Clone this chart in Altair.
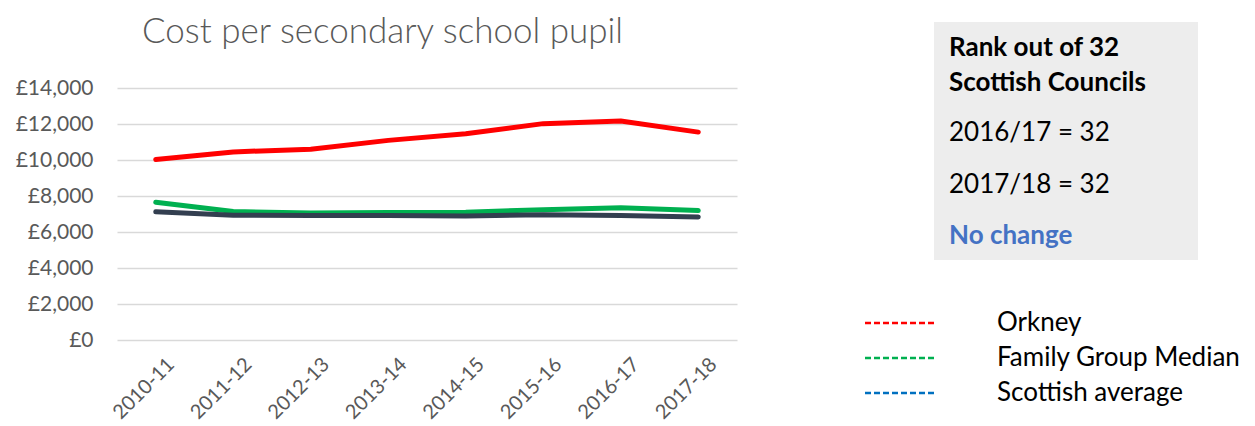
import altair as alt
import pandas as pd

years = ["2010-11", "2011-12", "2012-13", "2013-14", "2014-15", "2015-16", "2016-17", "2017-18"]
orkney = [10030, 10450, 10600, 11090, 11460, 12020, 12170, 11550]
family_median = [7650, 7140, 7050, 7080, 7100, 7240, 7350, 7190]
scottish_avg = [7120, 6930, 6920, 6910, 6890, 6960, 6910, 6840]

series_names = ["Orkney", "Family Group Median", "Scottish average"]
line_colors = ["#FF0000", "#00B050", "#333F50"]
legend_colors = ["#FF0000", "#00B050", "#0070C0"]

box_lines = ["Rank out of 32", "Scottish Councils", "2016/17 = 32", "2017/18 = 32", "No change"]
box_weights = ["bold", "bold", "normal", "normal", "bold"]
box_colors = ["#000000", "#000000", "#000000", "#000000", "#4472C4"]

title_text = "Cost per secondary school pupil"
FONT = "Lato"

rows = []
for name, vals in zip(series_names, [orkney, family_median, scottish_avg]):
    for y, v in zip(years, vals):
        rows.append({"year": y, "value": v, "series": name})
df = pd.DataFrame(rows)

xenc = alt.X("year:N", sort=years, scale=alt.Scale(type="point", padding=0.5),
             axis=alt.Axis(title=None, labelAngle=-45, labelAlign="right", labelBaseline="top",
                           labelPadding=14, labelOffset=8, ticks=False, domain=False, grid=False,
                           labelFontSize=20, labelColor="#595959", labelFont=FONT))
yenc = alt.Y("value:Q", scale=alt.Scale(domain=[0, 14000], nice=False),
             axis=alt.Axis(title=None, values=[0, 2000, 4000, 6000, 8000, 10000, 12000, 14000],
                           labelExpr="'£' + format(datum.value, ',')",
                           ticks=False, domain=False, grid=True, gridColor="#D9D9D9", gridWidth=1.5,
                           labelFontSize=21, labelColor="#595959", labelFont=FONT, labelPadding=24))

layers = []
for name, col in zip(series_names, line_colors):
    layers.append(
        alt.Chart(df).transform_filter(alt.datum.series == name)
        .mark_line(strokeWidth=5, strokeCap="round", strokeJoin="round", color=col)
        .encode(x=xenc, y=yenc)
    )

# Title
title_df = pd.DataFrame({"t": [title_text]})
title_layer = alt.Chart(title_df).mark_text(align="left", baseline="alphabetic", fontSize=35,
                                            font=FONT, fontWeight=300, color="#595959").encode(
    x=alt.value(25), y=alt.value(-45), text="t:N")

# Grey box
box_df = pd.DataFrame({"k": [1]})
box_layer = alt.Chart(box_df).mark_rect(color="#EDEDED").encode(
    x=alt.value(817), x2=alt.value(1081), y=alt.value(-66), y2=alt.value(172))

box_text_df = pd.DataFrame({"t": box_lines, "i": list(range(len(box_lines)))})
box_text_layers = []
box_y = [-40, -5, 45, 97, 148]
for i, t in enumerate(box_lines):
    box_text_layers.append(
        alt.Chart(box_text_df).transform_filter(alt.datum.i == i)
        .mark_text(align="left", baseline="middle", fontSize=26, font=FONT,
                   fontWeight=box_weights[i], color=box_colors[i])
        .encode(x=alt.value(832), y=alt.value(box_y[i]), text="t:N")
    )

# Custom legend
leg_df = pd.DataFrame({"name": series_names})
leg_y = [235, 270, 305]
legend_layers = []
for i, name in enumerate(series_names):
    legend_layers.append(
        alt.Chart(leg_df).transform_filter(alt.datum.name == name)
        .mark_rule(strokeWidth=2.5, strokeDash=[6, 3], color=legend_colors[i])
        .encode(x=alt.value(748), x2=alt.value(818), y=alt.value(leg_y[i]))
    )
    legend_layers.append(
        alt.Chart(leg_df).transform_filter(alt.datum.name == name)
        .mark_text(align="left", baseline="middle", fontSize=26, font=FONT, color="#000000")
        .encode(x=alt.value(880), y=alt.value(leg_y[i]), text="name:N")
    )

chart = alt.layer(*layers, title_layer, box_layer, *box_text_layers, *legend_layers).properties(
    width=620, height=252,
    padding={"left": 109, "top": 80, "right": 510, "bottom": 86},
    autosize=alt.AutoSizeParams(type="none"),
    background="white",
).configure_view(stroke=None)

chart.save("out.html", embed_options={"renderer": "svg", "actions": False})
